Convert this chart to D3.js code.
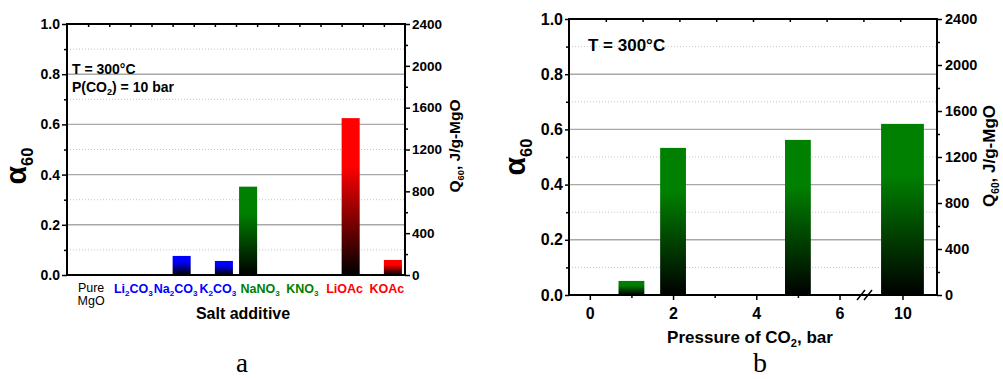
<!DOCTYPE html>
<html><head><meta charset="utf-8">
<script src="https://cdn.jsdelivr.net/npm/d3@7"></script>
<style>
body{margin:0;background:#fff;}
svg{display:block;font-family:"Liberation Sans",Arial,sans-serif;}
</style></head><body>
<svg id="chart" width="1003" height="379"></svg>
<script>
// ---------- Panel a data ----------
const saltCategories = ["Pure MgO","Li{2}CO{3}","Na{2}CO{3}","K{2}CO{3}","NaNO{3}","KNO{3}","LiOAc","KOAc"];
const saltGroups = ["none","carbonate","carbonate","carbonate","nitrate","nitrate","acetate","acetate"];
const seriesKeys = ["A","B"];
const alphaSeriesA = [0,0,0,0,0.352,0,0,0];
const alphaSeriesB = [0,0,0.076,0.056,0,0,0.625,0.06];
// ---------- Panel b data ----------
const pressures = [1,2,5,10];
const alphaPressure = [0.051,0.533,0.562,0.62];
const pressureTicks = [0,2,4,6,10];
const pressureMinorTicks = [1,3,5];
// ---------- shared ticks ----------
const alphaTicks = [0,0.2,0.4,0.6,0.8,1.0];
const alphaMinorTicks = [0.1,0.3,0.5,0.7,0.9];
const qTicks = [0,400,800,1200,1600,2000,2400];
const qMinorTicks = [200,600,1000,1400,1800,2200];

const groupColors = {none:"#000000", carbonate:"#0000ff", nitrate:"#008000", acetate:"#ff0000"};
const svg = d3.select("#chart");
const FONT = '"Liberation Sans",Arial,sans-serif';
const SERIF = '"Liberation Serif","Times New Roman",serif';

// gradients
const defs = svg.append("defs");
["carbonate","nitrate","acetate"].forEach(k => {
  const lg = defs.append("linearGradient").attr("id","grad-"+k)
    .attr("x1",0).attr("y1",0).attr("x2",0).attr("y2",1);
  lg.append("stop").attr("offset","0%").attr("stop-color",groupColors[k]);
  lg.append("stop").attr("offset","30%").attr("stop-color",groupColors[k]);
  lg.append("stop").attr("offset","100%").attr("stop-color","#000");
});

function rich(textSel, str, size, subScale, shift) {
  const parts = str.split(/(\{[^}]*\})/).filter(s => s.length);
  let cur = 0;
  parts.forEach(p => {
    const isSub = p.startsWith("{");
    const target = isSub ? shift : 0;
    textSel.append("tspan")
      .attr("font-size", isSub ? size*subScale : size)
      .attr("dy", target - cur)
      .text(isSub ? p.slice(1,-1) : p);
    cur = target;
  });
}

function frame(g, L, R, T, B) {
  const yL = d3.scaleLinear().domain([0,1]).range([B,T]);
  const yR = d3.scaleLinear().domain([0,2400]).range([B,T]);
  g.append("g").selectAll("line").data(alphaTicks.filter(d=>d>0&&d<1)).join("line")
    .attr("x1",L).attr("x2",R).attr("y1",d=>yL(d)).attr("y2",d=>yL(d))
    .attr("stroke","#a8a8a8").attr("stroke-width",1.4);
  g.append("g").selectAll("line").data(alphaMinorTicks).join("line")
    .attr("x1",L).attr("x2",R).attr("y1",d=>yL(d)).attr("y2",d=>yL(d))
    .attr("stroke","#c4c4c4").attr("stroke-width",1).attr("stroke-dasharray","1,2");
  return {yL, yR};
}

function axes(g, L, R, T, B, yL, yR, o) {
  const styleAxis = (sel, fs) => {
    sel.select(".domain").remove();
    sel.selectAll("line").attr("stroke","#000").attr("stroke-width",1.5);
    sel.selectAll("text").attr("font-family",FONT).attr("font-weight","bold")
      .attr("font-size",fs).attr("fill","#000");
  };
  g.append("g").attr("transform",`translate(${L},0)`)
    .call(d3.axisLeft(yL).tickValues(alphaTicks).tickFormat(d3.format(".1f")).tickSize(o.lt).tickPadding(o.lp))
    .call(s=>styleAxis(s,o.lfs));
  g.append("g").attr("transform",`translate(${L},0)`)
    .call(d3.axisLeft(yL).tickValues(alphaMinorTicks).tickFormat("").tickSize(3))
    .call(s=>styleAxis(s,0));
  g.append("g").attr("transform",`translate(${R},0)`)
    .call(d3.axisRight(yR).tickValues(qTicks).tickFormat(d3.format("d")).tickSize(5).tickPadding(o.rp))
    .call(s=>styleAxis(s,o.rfs));
  g.append("g").attr("transform",`translate(${R},0)`)
    .call(d3.axisRight(yR).tickValues(qMinorTicks).tickFormat("").tickSize(3))
    .call(s=>styleAxis(s,0));
  const xt = d3.scaleLinear().domain([0,o.topN]).range([L,R]);
  g.append("g").attr("transform",`translate(0,${T})`)
    .call(d3.axisTop(xt).tickValues(d3.range(1,o.topN)).tickFormat("").tickSize(-3))
    .call(s=>styleAxis(s,0));
  g.append("rect").attr("x",L).attr("y",T).attr("width",R-L).attr("height",B-T)
    .attr("fill","none").attr("stroke","#000").attr("stroke-width",2);
}

function titles(g, o) {
  const t1 = g.append("text").attr("transform",`translate(${o.ax},${o.ay}) rotate(-90)`)
    .attr("text-anchor","middle").attr("font-weight","bold").attr("font-family",FONT);
  rich(t1, "α{60}", o.afs, 0.55, 7);
  const t2 = g.append("text").attr("transform",`translate(${o.qx},${o.qy}) rotate(-90)`)
    .attr("text-anchor","middle").attr("font-weight","bold").attr("font-family",FONT);
  rich(t2, "Q{60}, J/g-MgO", o.qfs, 0.6, 4);
}

// ================= Panel a =================
{
  const L=67, R=405, T=24, B=275;
  const g = svg.append("g");
  const {yL, yR} = frame(g, L, R, T, B);
  const x0 = d3.scaleBand().domain(saltCategories).range([L,R]).paddingInner(0).paddingOuter(0);
  const x1 = d3.scaleBand().domain(seriesKeys).range([0,x0.bandwidth()]).paddingInner(0).paddingOuter(0.17);
  const rows = [];
  saltCategories.forEach((c,i) => {
    rows.push({c, k:"A", v:alphaSeriesA[i], grp:saltGroups[i]});
    rows.push({c, k:"B", v:alphaSeriesB[i], grp:saltGroups[i]});
  });
  g.append("g").selectAll("rect").data(rows.filter(d=>d.v>0)).join("rect")
    .attr("x",d=>x0(d.c)+x1(d.k)).attr("width",x1.bandwidth())
    .attr("y",d=>yL(d.v)).attr("height",d=>yL(0)-yL(d.v))
    .attr("fill",d=>`url(#grad-${d.grp})`);
  axes(g, L, R, T, B, yL, yR, {lt:5, lp:2, lfs:14, rp:2, rfs:13.5, topN:16});
  saltCategories.forEach((c,i) => {
    const cx = x0(c) + x0.bandwidth()/2 + 3;
    if (saltGroups[i]==="none") {
      c.split(" ").forEach((w,j) => {
        g.append("text").attr("x",cx).attr("y",292+j*13).attr("text-anchor","middle")
          .attr("font-size",12.5).attr("font-family",FONT).attr("fill","#000").text(w);
      });
    } else {
      const t = g.append("text").attr("x",cx).attr("y",293).attr("text-anchor","middle")
        .attr("font-weight","bold").attr("font-family",FONT).attr("fill",groupColors[saltGroups[i]]);
      rich(t, c, 12.5, 0.65, 3);
    }
  });
  g.append("text").attr("x",243).attr("y",319).attr("text-anchor","middle")
    .attr("font-weight","bold").attr("font-size",16).attr("font-family",FONT).text("Salt additive");
  g.append("text").attr("x",72).attr("y",74).attr("font-weight","bold").attr("font-size",14)
    .attr("font-family",FONT).text("T = 300°C");
  const p = g.append("text").attr("x",72).attr("y",92).attr("font-weight","bold").attr("font-family",FONT);
  rich(p, "P(CO{2}) = 10 bar", 14, 0.65, 3);
  titles(g, {ax:26, ay:166, afs:30, qx:460, qy:146, qfs:15.5});
  g.append("text").attr("x",242).attr("y",372).attr("text-anchor","middle")
    .attr("font-family",SERIF).attr("font-size",27).text("a");
}

// ================= Panel b =================
{
  const L=569, R=937, T=19, B=295;
  const g = svg.append("g");
  const {yL, yR} = frame(g, L, R, T, B);
  const pressureBreak = [6.6, 9.45];
  const x = d3.scaleLinear().domain([-0.5, pressureBreak[0], pressureBreak[1], 10.5])
    .range([L, 864.5, 864.5, R]);
  const half = 0.31;
  g.append("g").selectAll("rect").data(pressures.map((p,i)=>({p, v:alphaPressure[i]}))).join("rect")
    .attr("x",d=>x(d.p-half)).attr("width",d=>x(d.p+half)-x(d.p-half))
    .attr("y",d=>yL(d.v)).attr("height",d=>yL(0)-yL(d.v))
    .attr("fill","url(#grad-nitrate)");
  axes(g, L, R, T, B, yL, yR, {lt:4, lp:2, lfs:16, rp:3, rfs:14.5, topN:10});
  const bx = g.append("g").attr("transform",`translate(0,${B})`)
    .call(d3.axisBottom(x).tickValues(pressureTicks).tickFormat(d3.format("d")).tickSize(5).tickPadding(8));
  bx.select(".domain").remove();
  bx.selectAll("line").attr("stroke","#000").attr("stroke-width",1.5);
  bx.selectAll("text").attr("font-family",FONT).attr("font-weight","bold").attr("font-size",16).attr("fill","#000");
  const bm = g.append("g").attr("transform",`translate(0,${B})`)
    .call(d3.axisBottom(x).tickValues(pressureMinorTicks).tickFormat("").tickSize(3));
  bm.select(".domain").remove();
  bm.selectAll("line").attr("stroke","#000").attr("stroke-width",1.5);
  const bxp = x(pressureBreak[0]);
  [-3.5, 3.5].forEach(dx => {
    g.append("line").attr("x1",bxp+dx-4).attr("y1",B+5).attr("x2",bxp+dx+4).attr("y2",B-5)
      .attr("stroke","#000").attr("stroke-width",1.5);
  });
  const xt = g.append("text").attr("x",750).attr("y",343).attr("text-anchor","middle")
    .attr("font-weight","bold").attr("font-family",FONT);
  rich(xt, "Pressure of CO{2}, bar", 17, 0.65, 4);
  g.append("text").attr("x",588).attr("y",51).attr("font-weight","bold").attr("font-size",17)
    .attr("font-family",FONT).text("T = 300°C");
  titles(g, {ax:525, ay:157, afs:30, qx:995, qy:156, qfs:17});
  g.append("text").attr("x",760).attr("y",372).attr("text-anchor","middle")
    .attr("font-family",SERIF).attr("font-size",28).text("b");
}
</script>
</body></html>
